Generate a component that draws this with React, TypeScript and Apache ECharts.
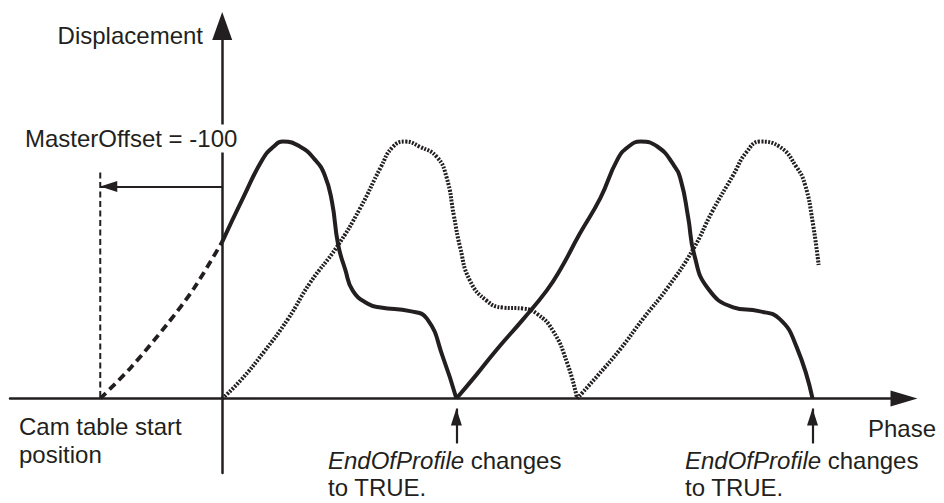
import React, { useEffect, useRef } from "react";
import * as echarts from "echarts";

// ---- data (x: phase units, y: displacement units; peak = 100) ----
const dashedX = [-100, -75, -45, -23, 0];
const dashedY = [0, 12, 29, 43, 61];

const solid1X = [0, 17, 33, 42, 50, 64, 76, 84, 90, 95, 101, 107, 119, 130, 154, 168, 181, 192];
const solid1Y = [61, 78, 93, 98, 100, 98, 93, 87, 76.5, 60, 50, 42, 37, 35.4, 34, 31, 16, 0];

const solid2X = [192, 208, 225, 247, 266, 277, 293, 310, 324, 333, 343, 357, 370, 376, 382, 387, 398, 419, 440, 457, 471, 484];
const solid2Y = [0, 9, 19, 31, 42, 50, 64, 78, 93, 98, 100, 98, 91, 85, 70.6, 56, 43, 35.5, 34, 31, 20, 0];

const dotted1X = [0, 15, 34, 54, 72, 94, 113, 130, 140, 150, 162, 176, 184, 190, 195, 203, 217, 230, 247, 258, 271, 283, 291];
const dotted1Y = [0, 7, 18, 31, 45, 59, 74, 90, 98, 100, 98, 94, 86, 71, 59, 46, 38, 35.4, 35, 33, 26.5, 13.6, 0];

const dotted2X = [291, 308, 326, 345, 365, 386, 402, 419, 430, 441, 457, 471, 478, 484, 489];
const dotted2Y = [0, 9, 19, 31, 43, 58, 73, 87, 96, 100, 98, 90, 83, 69, 52];

const MASTER_OFFSET = -100;
const masterArrowY = 82.5;
const camStartLineTop = 88;
const endOfProfileX = [192, 484];
const endArrowY = [-17.5, -3.9];

const xRange = [-174, 559];
const yRange = [-29, 145];

// ---- styles ----
const INK = "#231f20";
const FONT = '"Liberation Sans", Arial, Helvetica, sans-serif';
const FS = 24;

const zip = (xs: number[], ys: number[]) => xs.map((x, i) => [x, ys[i]]);

function lineSeries(data: number[][], type: any, width: number, extra: any = {}) {
  return {
    type: "line",
    data,
    symbol: "none",
    showSymbol: false,
    smooth: 0.5,
    silent: true,
    color: INK,
    lineStyle: { color: INK, width, type, cap: "butt" },
    emphasis: { disabled: true },
    z: 3,
    ...extra,
  };
}

const arrowMarkLine = (data: any[]) => ({
  silent: true,
  symbol: ["none", "triangle"],
  symbolSize: [11, 17],
  symbolOffset: [0, [0, 8.5]],
  label: { show: false },
  emphasis: { disabled: true },
  lineStyle: { type: "solid", color: INK, width: 2.2 },
  itemStyle: { color: INK },
  data,
});

export default function App() {
  const ref = useRef<HTMLDivElement>(null);
  useEffect(() => {
    if (!ref.current) return;
    const chart = echarts.init(ref.current, undefined, { renderer: "svg" });
    const axisCommon = {
      type: "value",
      axisTick: { show: false },
      axisLabel: { show: false },
      splitLine: { show: false },
    };
    const textStyle = (extra: any) => ({ fill: INK, fontFamily: FONT, fontSize: FS, ...extra });
    chart.setOption({
      animation: false,
      backgroundColor: "#ffffff",
      grid: { left: 10, right: 40, top: 26, bottom: 30 },
      xAxis: {
        ...axisCommon,
        min: xRange[0],
        max: xRange[1],
        axisLine: {
          show: true,
          onZero: true,
          symbol: ["none", "triangle"],
          symbolSize: [16, 27],
          lineStyle: { color: INK, width: 2.5 },
        },
      },
      yAxis: {
        ...axisCommon,
        min: yRange[0],
        max: yRange[1],
        axisLine: {
          show: true,
          onZero: true,
          symbol: ["none", "triangle"],
          symbolSize: [20, 28],
          lineStyle: { color: INK, width: 2.5 },
        },
      },
      series: [
        lineSeries(zip(dashedX, dashedY), [8, 5], 3.8, {
          smooth: 0.3,
          markLine: arrowMarkLine([
            [{ coord: [0, masterArrowY] }, { coord: [MASTER_OFFSET, masterArrowY] }],
          ]),
        }),
        lineSeries(zip(solid1X, solid1Y), "solid", 4, {
          markLine: arrowMarkLine(
            endOfProfileX.map((x) => [{ coord: [x, endArrowY[0]] }, { coord: [x, endArrowY[1]] }])
          ),
        }),
        lineSeries(zip(solid2X, solid2Y), "solid", 4),
        lineSeries(zip(dotted1X, dotted1Y), [2, 1.4], 4),
        lineSeries(zip(dotted2X, dotted2Y), [2, 1.4], 4),
        lineSeries(
          [
            [MASTER_OFFSET, camStartLineTop],
            [MASTER_OFFSET, 0],
          ],
          [6, 3.5],
          2,
          { smooth: false }
        ),
      ],
      graphic: [
        {
          type: "text",
          z: 100,
          style: textStyle({ text: "Displacement", x: 203, y: 35, align: "right", verticalAlign: "middle" }),
        },
        {
          type: "text",
          z: 100,
          style: textStyle({
            text: "MasterOffset = -100",
            x: 22,
            y: 138.5,
            align: "left",
            verticalAlign: "middle",
            backgroundColor: "#ffffff",
            padding: [3, 3, 1, 3],
          }),
        },
        {
          type: "text",
          z: 100,
          style: textStyle({
            text: "Cam table start\nposition",
            x: 19,
            y: 412,
            lineHeight: 28,
            align: "left",
            verticalAlign: "top",
          }),
        },
        {
          type: "text",
          z: 100,
          style: textStyle({ text: "Phase", x: 936, y: 428, align: "right", verticalAlign: "middle" }),
        },
        ...[328, 685].map((x) => ({
          type: "text",
          z: 100,
          style: textStyle({
            text: "{i|EndOfProfile} changes\nto TRUE.",
            x,
            y: 446.5,
            lineHeight: 27,
            align: "left",
            verticalAlign: "top",
            rich: {
              i: { fontStyle: "italic", fontFamily: FONT, fontSize: FS, fill: INK, lineHeight: 27 },
            },
          }),
        })),
      ],
    });
    return () => chart.dispose();
  }, []);
  return (
    <div
      ref={ref}
      style={{ position: "absolute", left: 0, top: 0, width: 944, height: 503, background: "#fff" }}
    />
  );
}
